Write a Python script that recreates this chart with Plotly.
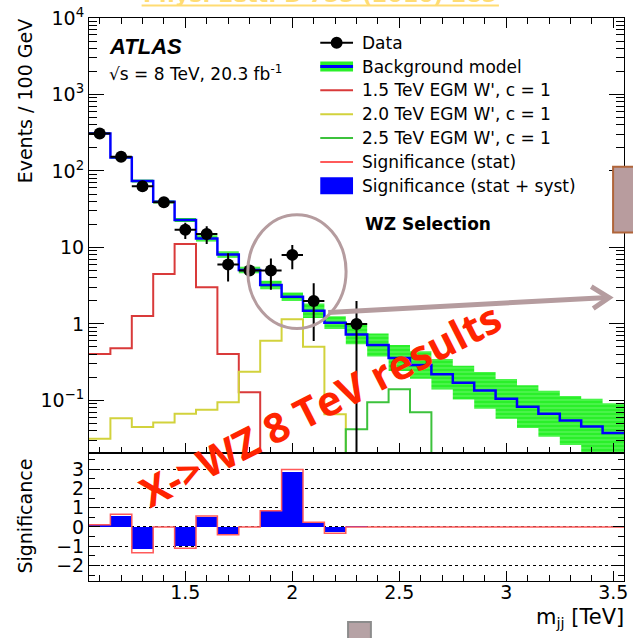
import plotly.graph_objects as go

# ---------------- data ----------------
mass_centers = [1.1, 1.2, 1.3, 1.4, 1.5, 1.6, 1.7, 1.8, 1.9, 2.0, 2.1, 2.2, 2.3,
                2.4, 2.5, 2.6, 2.7, 2.8, 2.9, 3.0, 3.1, 3.2, 3.3, 3.4, 3.5]
bin_width = 0.1

bkg_model = [309, 150, 74, 39.5, 22.8, 13.1, 8.1, 5.07, 3.23, 2.27, 1.49, 1.04, 0.73,
             0.53, 0.36, 0.29, 0.22, 0.171, 0.135, 0.105, 0.083, 0.067, 0.0547, 0.0457, 0.0374]
bkg_hi = [318, 155.3, 77.5, 41.4, 24.2, 14.4, 8.94, 5.60, 3.67, 2.58, 1.855, 1.26, 0.985,
          0.749, 0.532, 0.439, 0.349, 0.284, 0.235, 0.191, 0.158, 0.134, 0.114, 0.105, 0.0918]
bkg_lo = [301, 144.9, 70.7, 37.7, 21.5, 11.95, 7.34, 4.59, 2.85, 2.0, 1.197, 0.859, 0.541,
          0.375, 0.243, 0.1915, 0.1388, 0.103, 0.0777, 0.0577, 0.0436, 0.0336, 0.0262, 0.0199, 0.0152]

sig_15 = [0.406, 0.48, 1.27, 4.5, 11.1, 3.01, 0.406, 0.128, 0, 0, 0, 0, 0,
          0, 0, 0, 0, 0, 0, 0, 0, 0, 0, 0, 0]
sig_20 = [0.0316, 0.0587, 0.0448, 0.0514, 0.0668, 0.0754, 0.095, 0.238, 0.605, 1.15, 0.505, 0.066, 0,
          0, 0, 0, 0, 0, 0, 0, 0, 0, 0, 0, 0]
sig_25 = [0, 0, 0, 0, 0, 0, 0, 0, 0, 0, 0, 0, 0.042,
          0.095, 0.14, 0.0703, 0, 0, 0, 0, 0, 0, 0, 0, 0]

data_x = [1.1, 1.2, 1.3, 1.4, 1.5, 1.6, 1.7, 1.8, 1.9, 2.0, 2.1, 2.3]
data_y = [309, 153, 63, 39, 17, 15, 6, 5, 5, 8, 2, 1]
data_err_up = [17.6, 12.4, 7.9, 6.2, 4.1, 3.9, 2.4, 0, 2.2, 2.8, 1.4, 1.0]
data_err_dn = [17.6, 12.4, 7.9, 6.2, 4.1, 3.9, 2.4, 0, 2.2, 2.8, 1.4, 0.999]

signif_syst = [0.09, 0.57, -1.17, 0, -1.0, 0.53, -0.36, 0, 0.83, 2.84, 0.22, -0.29, 0.02,
               0, 0, 0, 0, 0, 0, 0, 0, 0, 0, 0, 0]
signif_stat = [0.12, 0.655, -1.33, 0, -1.10, 0.57, -0.40, 0, 0.845, 2.98, 0.24, -0.33, 0,
               0, 0, 0, 0, 0, 0, 0, 0, 0, 0, 0, 0]

ytick_vals = [0.1, 1, 10, 100, 1000, 10000]
ytick_text = ['10<sup>\u22121</sup>', '1', '10', '10<sup>2</sup>', '10<sup>3</sup>', '10<sup>4</sup>']

legend_labels = ['Data', 'Background model', "1.5 TeV EGM W', c = 1", "2.0 TeV EGM W', c = 1",
                 "2.5 TeV EGM W', c = 1", 'Significance (stat)', 'Significance (stat + syst)']

# ---------------- geometry helpers ----------------
W, H = 633, 638
ML, MR, MT, MB = 89, 5, 17, 57
PW, PH = W - ML - MR, H - MT - MB
SPLIT = 453


def PX(x):
    return (x - ML) / PW


def PY(y):
    return (H - MB - y) / PH


YMIN_LOG, YMAX_LOG = -1.69, 4.0
FLOOR = 10 ** YMIN_LOG

edges = [c - bin_width / 2 for c in mass_centers] + [mass_centers[-1] + bin_width / 2]


def step_y(vals, floor=None):
    v = [(floor if (floor is not None and x <= 0) else x) for x in vals]
    return v + [v[-1]]


FONT = 'DejaVu Sans'
fig = go.Figure()

# background band
bx, by = [], []
for i in range(len(mass_centers)):
    bx += [edges[i], edges[i + 1]]
    by += [bkg_hi[i], bkg_hi[i]]
for i in reversed(range(len(mass_centers))):
    bx += [edges[i + 1], edges[i]]
    by += [bkg_lo[i], bkg_lo[i]]
fig.add_trace(go.Scatter(x=bx, y=by, fill='toself', mode='lines', line=dict(width=0),
                         fillcolor='#2af02a',
                         fillpattern=dict(shape='-', fgcolor='#a8ffa8', bgcolor='#2af02a',
                                          size=4, solidity=0.25),
                         xaxis='x', yaxis='y', hoverinfo='skip'))

# signals
for vals, col in [(sig_15, '#d93a3a'), (sig_20, '#d2d23c'), (sig_25, '#3cc23c')]:
    fig.add_trace(go.Scatter(x=edges, y=step_y(vals, FLOOR), mode='lines', line_shape='hv',
                             line=dict(color=col, width=2), xaxis='x', yaxis='y'))

# background model line
fig.add_trace(go.Scatter(x=edges, y=step_y(bkg_model), mode='lines', line_shape='hv',
                         line=dict(color='#0000ff', width=2.5), xaxis='x', yaxis='y'))

# data
fig.add_trace(go.Scatter(x=data_x, y=data_y, mode='markers',
                         marker=dict(color='black', size=12),
                         error_x=dict(type='constant', value=bin_width / 2, width=0, thickness=2, color='black'),
                         error_y=dict(type='data', array=data_err_up, arrayminus=data_err_dn,
                                      width=0, thickness=2, color='black'),
                         xaxis='x', yaxis='y'))

# significance panel
fig.add_trace(go.Bar(x=mass_centers, y=signif_syst, width=bin_width,
                     marker=dict(color='#0000ff', line=dict(width=0)), xaxis='x2', yaxis='y2'))
fig.add_trace(go.Scatter(x=edges, y=step_y(signif_stat), mode='lines', line_shape='hv',
                         line=dict(color='#ff5a5a', width=1.5), xaxis='x2', yaxis='y2'))

minor_log = [k * 10 ** e for e in range(-2, 4) for k in range(2, 10)]

tickfont = dict(family=FONT, size=19, color='black')
axis_common = dict(showline=True, linecolor='black', linewidth=1, ticks='inside',
                   tickcolor='black', tickwidth=1, showgrid=False, zeroline=False)

fig.update_layout(
    width=W, height=H,
    margin=dict(l=ML, r=MR, t=MT, b=MB),
    paper_bgcolor='white', plot_bgcolor='white',
    showlegend=False, bargap=0,
    xaxis=dict(domain=[0, 1], anchor='y', range=[edges[0], edges[-1]], showticklabels=False,
               tickmode='linear', tick0=0, dtick=0.5, ticklen=10, mirror='ticks',
               minor=dict(ticks='inside', dtick=0.1, ticklen=6, tickcolor='black', showgrid=False),
               **axis_common),
    yaxis=dict(domain=[PY(SPLIT), 1], anchor='x', type='log', range=[YMIN_LOG, YMAX_LOG],
               tickmode='array', tickvals=ytick_vals, ticktext=ytick_text, ticklen=15,
               tickfont=tickfont, mirror='ticks',
               minor=dict(ticks='inside', tickmode='array', tickvals=minor_log, ticklen=8,
                          tickcolor='black', showgrid=False),
               **axis_common),
    xaxis2=dict(domain=[0, 1], anchor='y2', range=[edges[0], edges[-1]],
                tickmode='linear', tick0=0, dtick=0.5, ticklen=10, mirror=True,
                tickfont=tickfont, ticklabelstandoff=-6,
                minor=dict(ticks='inside', dtick=0.1, ticklen=6, tickcolor='black', showgrid=False),
                **axis_common),
    yaxis2=dict(domain=[0, PY(SPLIT)], anchor='x2', range=[-2.8, 3.82],
                tickmode='linear', tick0=0, dtick=1, ticklen=11, mirror='ticks',
                tickfont=tickfont,
                minor=dict(ticks='inside', dtick=0.5, ticklen=6, tickcolor='black', showgrid=False),
                showline=True, linecolor='black', linewidth=1, ticks='inside',
                tickcolor='black', tickwidth=1, zeroline=False,
                showgrid=True, gridcolor='black', gridwidth=1, griddash='dot'),
)

shapes = []
annotations = []

# ---- legend (drawn by hand) ----
leg_y = [41.7, 65.6, 89.5, 113.4, 137.3, 161.2, 185.1]
sx0, sx1, tx = 322, 355, 362
# data
shapes.append(dict(type='line', xref='paper', yref='paper', x0=PX(sx0), x1=PX(sx1),
                   y0=PY(leg_y[0]), y1=PY(leg_y[0]), line=dict(color='black', width=2)))
shapes.append(dict(type='circle', xref='paper', yref='paper', x0=PX(338.5 - 6), x1=PX(338.5 + 6),
                   y0=PY(leg_y[0] + 6), y1=PY(leg_y[0] - 6), fillcolor='black',
                   line=dict(color='black', width=0)))
# background
shapes.append(dict(type='rect', xref='paper', yref='paper', x0=PX(sx0), x1=PX(sx1),
                   y0=PY(leg_y[1] + 5), y1=PY(leg_y[1] - 5), fillcolor='#2af02a',
                   line=dict(width=0)))
shapes.append(dict(type='line', xref='paper', yref='paper', x0=PX(sx0), x1=PX(sx1),
                   y0=PY(leg_y[1]), y1=PY(leg_y[1]), line=dict(color='#0000ff', width=3)))
for k, col in [(2, '#d93a3a'), (3, '#d2d23c'), (4, '#3cc23c'), (5, '#ff5a5a')]:
    shapes.append(dict(type='line', xref='paper', yref='paper', x0=PX(sx0), x1=PX(sx1),
                       y0=PY(leg_y[k]), y1=PY(leg_y[k]), line=dict(color=col, width=2)))
shapes.append(dict(type='rect', xref='paper', yref='paper', x0=PX(sx0), x1=PX(sx1),
                   y0=PY(leg_y[6] + 8.5), y1=PY(leg_y[6] - 8.5), fillcolor='#0000ff',
                   line=dict(width=0)))
for lab, yy in zip(legend_labels, leg_y):
    annotations.append(dict(text=lab, xref='paper', yref='paper', x=PX(tx), y=PY(yy),
                            xanchor='left', yanchor='middle', showarrow=False,
                            font=dict(family=FONT, size=17, color='black')))

# ---- texts ----
annotations.append(dict(text='<b><i>ATLAS</i></b>', xref='paper', yref='paper', x=PX(107), y=PY(45.5),
                        xanchor='left', yanchor='middle', showarrow=False,
                        font=dict(family='Liberation Sans', size=22, color='black')))
annotations.append(dict(text='\u221as = 8 TeV, 20.3 fb<sup>-1</sup>', xref='paper', yref='paper',
                        x=PX(107), y=PY(72), xanchor='left', yanchor='middle', showarrow=False,
                        font=dict(family=FONT, size=17, color='black')))
annotations.append(dict(text='<b>WZ Selection</b>', xref='paper', yref='paper', x=PX(365), y=PY(223),
                        xanchor='left', yanchor='middle', showarrow=False,
                        font=dict(family=FONT, size=17, color='black')))
annotations.append(dict(text='Events / 100 GeV', xref='paper', yref='paper', x=PX(24), y=PY(100),
                        xanchor='center', yanchor='middle', textangle=-90, showarrow=False,
                        font=dict(family=FONT, size=19, color='black')))
annotations.append(dict(text='Significance', xref='paper', yref='paper', x=PX(25), y=PY(516),
                        xanchor='center', yanchor='middle', textangle=-90, showarrow=False,
                        font=dict(family=FONT, size=19, color='black')))
annotations.append(dict(text='m<sub>jj</sub> [TeV]', xref='paper', yref='paper', x=PX(630), y=PY(618),
                        xanchor='right', yanchor='middle', showarrow=False,
                        font=dict(family=FONT, size=21, color='black')))

# ---- slide overlays ----
annotations.append(dict(text='<b>Phys. Lett. B 755 (2016) 285</b>', xref='paper', yref='paper',
                        x=PX(322), y=PY(7.5), xanchor='center', yanchor='bottom', showarrow=False,
                        font=dict(family=FONT, size=22, color='#ffdc73')))
shapes.append(dict(type='line', xref='paper', yref='paper', x0=PX(142), x1=PX(502),
                   y0=PY(4.5), y1=PY(4.5), line=dict(color='#ffdc73', width=2), layer='above'))

mauve = '#b59c9f'
shapes.append(dict(type='circle', xref='paper', yref='paper', x0=PX(249), x1=PX(348),
                   y0=PY(328), y1=PY(214), line=dict(color=mauve, width=3), layer='above'))
shapes.append(dict(type='line', xref='paper', yref='paper', x0=PX(330), x1=PX(612),
                   y0=PY(312), y1=PY(297), line=dict(color=mauve, width=5), layer='above'))
shapes.append(dict(type='path', xref='paper', yref='paper',
                   path=f'M {PX(595)} {PY(286)} L {PX(613)} {PY(297)} L {PX(597)} {PY(308)}',
                   line=dict(color=mauve, width=5), layer='above'))
shapes.append(dict(type='rect', xref='paper', yref='paper', x0=PX(617), x1=PX(640),
                   y0=PY(232), y1=PY(166), fillcolor='#b89c9e',
                   line=dict(color='#b0653a', width=2), layer='above'))
shapes.append(dict(type='rect', xref='paper', yref='paper', x0=PX(350), x1=PX(373),
                   y0=PY(645), y1=PY(622), fillcolor='#b6a2a5',
                   line=dict(color='#8c8c8c', width=2), layer='above'))

annotations.append(dict(text='<b>X->WZ 8 TeV results</b>', xref='paper', yref='paper',
                        x=PX(322), y=PY(404), xanchor='center', yanchor='middle', textangle=-27,
                        showarrow=False, font=dict(family='Open Sans', size=41, color='#ff2400')))

fig.update_layout(shapes=shapes, annotations=annotations)
fig.write_html('out.html')
